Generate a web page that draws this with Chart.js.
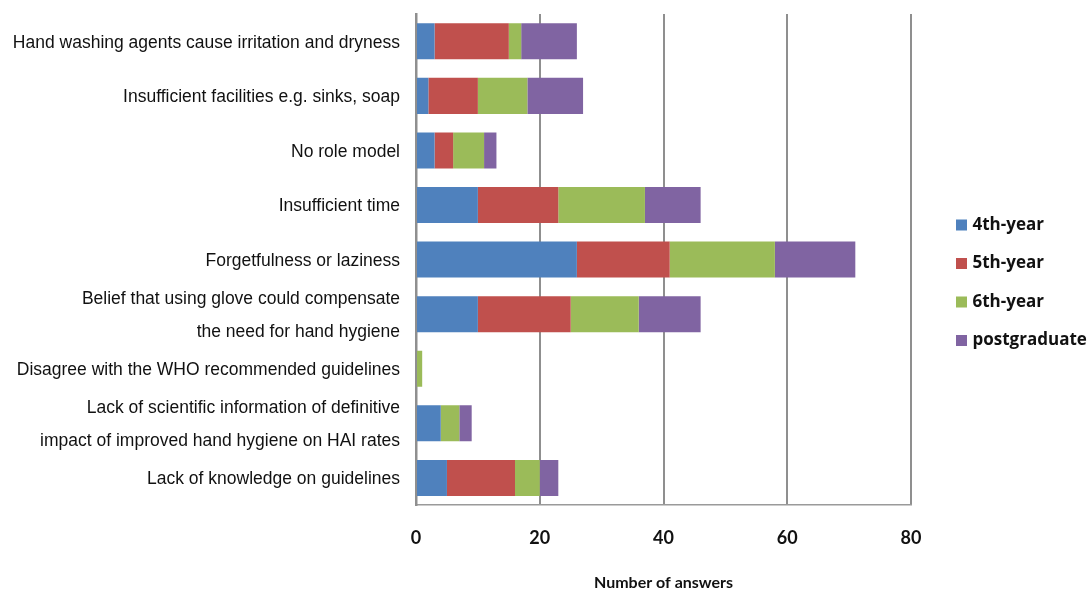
<!DOCTYPE html>
<html>
<head>
<meta charset="utf-8">
<script src="https://cdn.jsdelivr.net/npm/chart.js@4/dist/chart.umd.min.js"></script>
<style>
  html, body { margin: 0; padding: 0; background: #ffffff; }
  #wrap { width: 1091px; height: 593px; position: relative; }
</style>
</head>
<body>
<div id="wrap"><canvas id="chart"></canvas></div>
<script>
// Reasons given for not performing hand hygiene, by year of study
const categories = [
  'Hand washing agents cause irritation and dryness',
  'Insufficient facilities e.g. sinks, soap',
  'No role model',
  'Insufficient time',
  'Forgetfulness or laziness',
  ['Belief that using glove could compensate', 'the need for hand hygiene'],
  'Disagree with the WHO recommended guidelines',
  ['Lack of scientific information of definitive', 'impact of improved hand hygiene on HAI rates'],
  'Lack of knowledge on guidelines'
];

const seriesNames = ['4th-year', '5th-year', '6th-year', 'postgraduate'];

const fourthYear   = [3, 2, 3, 10, 26, 10, 0, 4, 5];
const fifthYear    = [12, 8, 3, 13, 15, 15, 0, 0, 11];
const sixthYear    = [2, 8, 5, 14, 17, 11, 1, 3, 4];
const postgraduate = [9, 9, 2, 9, 13, 10, 0, 2, 3];

const xTicks = [0, 20, 40, 60, 80];
const xTitle = 'Number of answers';

const seriesValues = [fourthYear, fifthYear, sixthYear, postgraduate];
const seriesColors = ['#4F81BD', '#C0504D', '#9BBB59', '#8064A2'];

// Legend drawn as a column to the right of the plot frame
const sideLegend = {
  id: 'sideLegend',
  afterDraw(chart) {
    const { ctx, chartArea } = chart;
    const x0 = chartArea.right + 45;
    const yStart = chartArea.top + 211;
    const step = 38.5;
    ctx.save();
    ctx.font = 'bold 17px "Open Sans", Lato, sans-serif';
    ctx.textBaseline = 'middle';
    ctx.textAlign = 'left';
    chart.data.datasets.forEach((ds, i) => {
      const y = yStart + i * step;
      ctx.fillStyle = ds.backgroundColor;
      ctx.fillRect(x0, y - 5.5, 11, 11);
      ctx.fillStyle = '#111111';
      ctx.fillText(ds.label, x0 + 16.5, y);
    });
    ctx.restore();
  }
};

new Chart(document.getElementById('chart'), {
  type: 'bar',
  data: {
    labels: categories,
    datasets: seriesNames.map((name, i) => ({
      label: name,
      data: seriesValues[i],
      backgroundColor: seriesColors[i],
      borderWidth: 0,
      barPercentage: 0.66,
      categoryPercentage: 1.0
    }))
  },
  options: {
    indexAxis: 'y',
    responsive: true,
    maintainAspectRatio: false,
    animation: false,
    layout: { padding: { top: 14, right: 180, bottom: 0, left: 0 } },
    plugins: {
      legend: { display: false },
      tooltip: { enabled: false }
    },
    scales: {
      x: {
        stacked: true,
        min: 0,
        max: 80,
        afterBuildTicks(scale) {
          scale.ticks = xTicks.map(v => ({ value: v }));
        },
        grid: {
          color: '#8f8f8f',
          lineWidth: 2,
          drawTicks: false
        },
        border: { display: true, color: '#9a9a9a', width: 1.5 },
        ticks: {
          padding: 22,
          color: '#111111',
          font: { family: 'Lato, "Open Sans", sans-serif', size: 18, weight: 'bold' }
        },
        title: {
          display: true,
          text: xTitle,
          color: '#111111',
          padding: { top: 2, bottom: 1 },
          font: { family: 'Lato, "Open Sans", sans-serif', size: 16, weight: 'bold' }
        }
      },
      y: {
        stacked: true,
        afterFit(scale) {
          scale.width = 416;
          scale.paddingTop = 0;
          scale.paddingBottom = 0;
        },
        grid: { display: false, drawTicks: false },
        border: { display: true, color: '#8f8f8f', width: 2.5 },
        ticks: {
          autoSkip: false,
          padding: 16,
          labelOffset: 1.5,
          color: '#111111',
          font: { family: '"Liberation Sans", Arial, sans-serif', size: 17.5, lineHeight: 1.85 }
        }
      }
    }
  },
  plugins: [sideLegend]
});
</script>
</body>
</html>
